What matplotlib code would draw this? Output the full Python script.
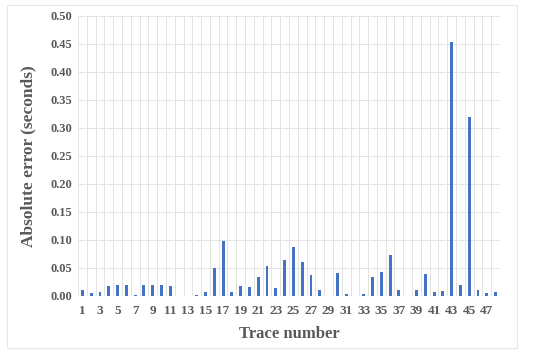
import matplotlib
matplotlib.use("Agg")
import matplotlib.pyplot as plt
import numpy as np
from matplotlib.patches import Rectangle

traces = list(range(1, 49))
errors = [0.010, 0.005, 0.007, 0.017, 0.019, 0.019, 0.002, 0.019, 0.019, 0.019,
          0.017, 0.0, 0.0, 0.002, 0.007, 0.049, 0.098, 0.007, 0.017, 0.016,
          0.033, 0.053, 0.013, 0.063, 0.087, 0.061, 0.037, 0.011, 0.0, 0.041,
          0.003, 0.0, 0.003, 0.033, 0.043, 0.073, 0.011, 0.0, 0.010, 0.039,
          0.007, 0.009, 0.453, 0.019, 0.319, 0.011, 0.005, 0.007]
tick_labels = [str(t) for t in traces[::2]]
yticks = [0.00, 0.05, 0.10, 0.15, 0.20, 0.25, 0.30, 0.35, 0.40, 0.45, 0.50]

plt.rcParams['font.family'] = ['Liberation Serif', 'DejaVu Serif']

fig = plt.figure(figsize=(5.5, 3.56), dpi=100)
fig.patches.append(Rectangle((7/550, 1-348/356), 510/550, 343/356, transform=fig.transFigure,
                             fill=False, edgecolor='#e6e6e6', linewidth=0.8))
ax = fig.add_axes([78/550, 1-295.7/356, 422/550, (295.7-16)/356])

x = np.arange(len(traces))
ax.bar(x, errors, width=0.33, color='#4472C4', zorder=3)

ax.set_xlim(-0.5, len(traces) - 0.5)
ax.set_ylim(0, 0.5)
ax.set_yticks(yticks)
ax.set_yticklabels([f"{v:.2f}" for v in yticks])
ax.set_xticks(x[::2])
ax.set_xticklabels(tick_labels)
ax.set_xticks(np.arange(-0.5, len(traces), 1), minor=True)

ax.grid(axis='y', which='major', color='#e3e3e3', linewidth=0.7, zorder=0)
ax.grid(axis='x', which='minor', color='#e3e3e3', linewidth=0.7, zorder=0)
ax.grid(axis='x', which='major', visible=False)
for s in ax.spines.values():
    s.set_visible(False)
ax.axhline(0, color='#d0d0d0', linewidth=0.8, zorder=2)

ax.tick_params(axis='y', which='both', length=0, labelsize=9, colors='#595959', pad=4)
ax.tick_params(axis='x', which='both', length=0, labelsize=9.5, colors='#595959', pad=7)
for lab in ax.get_xticklabels() + ax.get_yticklabels():
    lab.set_fontweight('bold')

ax.set_xlabel('Trace number', fontsize=12, fontweight='bold', color='#595959', labelpad=6)
ax.set_ylabel('Absolute error (seconds)', fontsize=12.5, fontweight='bold', color='#595959', labelpad=10)

fig.savefig('out.png', dpi=100)
